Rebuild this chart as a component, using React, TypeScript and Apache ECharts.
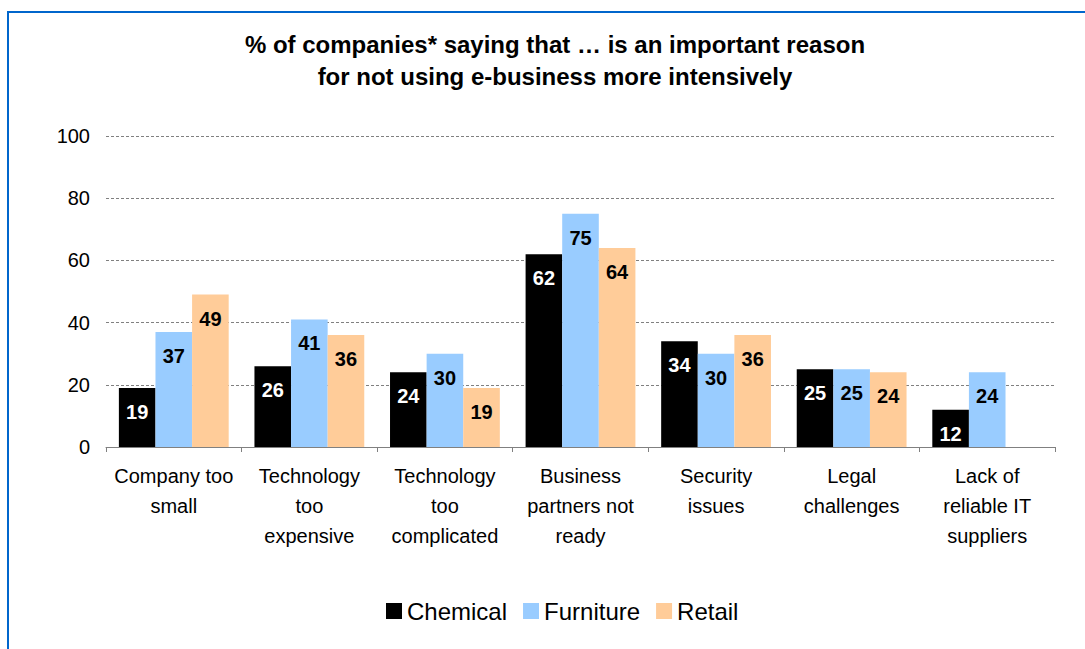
import React, { useEffect, useRef } from "react";
import * as echarts from "echarts";

const categories = [
  "Company too\nsmall",
  "Technology\ntoo\nexpensive",
  "Technology\ntoo\ncomplicated",
  "Business\npartners not\nready",
  "Security\nissues",
  "Legal\nchallenges",
  "Lack of\nreliable IT\nsuppliers",
];
const chemical = [19, 26, 24, 62, 34, 25, 12];
const furniture = [37, 41, 30, 75, 30, 25, 24];
const retail: (number | null)[] = [49, 36, 19, 64, 36, 24, null];
const seriesNames = ["Chemical", "Furniture", "Retail"];
const yTicks = { min: 0, max: 100, interval: 20 };

const FONT = "Arial, 'Liberation Sans', sans-serif";

export default function App() {
  const ref = useRef<HTMLDivElement>(null);
  useEffect(() => {
    if (!ref.current) return;
    const chart = echarts.init(ref.current, undefined, { renderer: "svg" });
    const label = (color: string) => ({
      show: true,
      position: "insideTop" as const,
      distance: 14,
      color,
      fontSize: 20,
      fontWeight: "bold" as const,
      fontFamily: FONT,
    });
    chart.setOption({
      animation: false,
      backgroundColor: "#ffffff",
      title: {
        text: "% of companies* saying that … is an important reason\nfor not using e-business more intensively",
        left: 550,
        top: 23,
        textAlign: "center",
        textStyle: {
          fontSize: 24,
          fontWeight: "bold",
          fontFamily: FONT,
          color: "#000",
          lineHeight: 32,
        },
      },
      graphic: [
        {
          type: "rect",
          shape: { x: 8, y: 12, width: 1090, height: 700 },
          style: { fill: "none", stroke: "#0066CC", lineWidth: 2 },
          silent: true,
        },
      ],
      legend: {
        data: seriesNames,
        left: 381,
        top: 594,
        itemWidth: 16,
        itemHeight: 16,
        itemGap: 16,
        icon: "rect",
        textStyle: { fontSize: 24, fontFamily: FONT, color: "#000", padding: [0, 0, 0, 0] },
      },
      grid: { left: 106, right: 30, top: 136, bottom: 202, containLabel: false },
      xAxis: {
        type: "category",
        data: categories,
        axisLine: { show: true, lineStyle: { color: "#808080", width: 1 } },
        axisTick: { show: true, length: 5, lineStyle: { color: "#808080" } },
        axisLabel: {
          interval: 0,
          margin: 14,
          fontSize: 20,
          lineHeight: 30,
          fontFamily: FONT,
          color: "#000",
        },
      },
      yAxis: {
        type: "value",
        min: yTicks.min,
        max: yTicks.max,
        interval: yTicks.interval,
        axisLine: { show: false },
        axisTick: { show: false },
        axisLabel: { fontSize: 20, fontFamily: FONT, color: "#000", margin: 16 },
        splitLine: { show: true, lineStyle: { color: "#808080", type: [3, 2], width: 1 } },
      },
      series: [
        {
          name: seriesNames[0],
          type: "bar",
          data: chemical,
          itemStyle: { color: "#000000" },
          barGap: "0%",
          barCategoryGap: "19%",
          label: label("#ffffff"),
        },
        {
          name: seriesNames[1],
          type: "bar",
          data: furniture,
          itemStyle: { color: "#99CCFF" },
          barGap: "0%",
          barCategoryGap: "19%",
          label: label("#000000"),
        },
        {
          name: seriesNames[2],
          type: "bar",
          data: retail,
          itemStyle: { color: "#FFCC99" },
          barGap: "0%",
          barCategoryGap: "19%",
          label: label("#000000"),
        },
      ],
    });
    return () => chart.dispose();
  }, []);
  return (
    <div
      ref={ref}
      style={{ position: "fixed", left: 0, top: 0, width: 1085, height: 649 }}
    />
  );
}
